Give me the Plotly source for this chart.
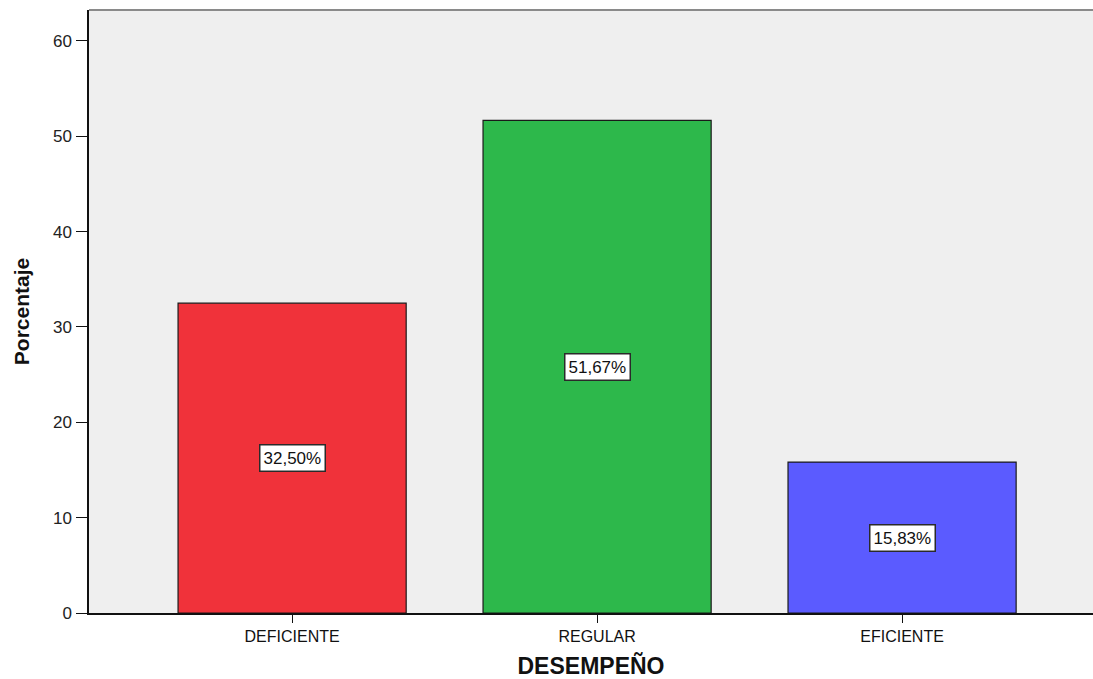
import plotly.graph_objects as go

categories = ["DEFICIENTE", "REGULAR", "EFICIENTE"]
percentages = [32.50, 51.67, 15.83]
bar_colors = ["#F0323A", "#2DB84B", "#5B5BFF"]
y_ticks = [0, 10, 20, 30, 40, 50, 60]

font_family = "Liberation Sans, Arial, sans-serif"

fig = go.Figure(
    go.Bar(
        x=categories,
        y=percentages,
        marker=dict(color=bar_colors, line=dict(color="#1a1a1a", width=1.2)),
        width=0.748,
        hoverinfo="skip",
    )
)

# value labels boxed in the middle of each bar
for cat, val in zip(categories, percentages):
    fig.add_annotation(
        x=cat,
        y=val / 2,
        text=f"{val:.2f}%".replace(".", ","),
        showarrow=False,
        font=dict(family=font_family, size=17, color="#111111"),
        bgcolor="white",
        bordercolor="#2a2a2a",
        borderwidth=1.5,
        borderpad=3,
    )

# grey frame line along the top of the plot area
fig.add_shape(
    type="line", xref="paper", yref="paper",
    x0=0, x1=1, y0=1, y1=1,
    line=dict(color="#8a8a8a", width=2),
)

fig.update_layout(
    width=1093,
    height=679,
    margin=dict(l=89, r=0, t=10, b=66),
    paper_bgcolor="white",
    plot_bgcolor="#EFEFEF",
    showlegend=False,
    font=dict(family=font_family, color="#222222"),
)

fig.update_xaxes(
    range=[-0.666, 2.626],
    showgrid=False,
    showline=True,
    linecolor="#111111",
    linewidth=1.5,
    ticks="outside",
    ticklen=8,
    tickcolor="#111111",
    tickfont=dict(size=16, color="#111111"),
    ticklabelstandoff=0,
    title=dict(
        text="<b>DESEMPEÑO</b>",
        font=dict(size=23, color="#111111"),
        standoff=15,
    ),
)

fig.update_yaxes(
    range=[0, 63.25],
    tickvals=y_ticks,
    showgrid=False,
    zeroline=False,
    showline=True,
    linecolor="#111111",
    linewidth=1.5,
    ticks="outside",
    ticklen=11,
    tickcolor="#111111",
    tickfont=dict(size=17, color="#222222"),
    ticklabelstandoff=1,
    title=dict(
        text="<b>Porcentaje</b>",
        font=dict(size=21, color="#111111"),
        standoff=18,
    ),
)

fig.write_html("out.html")
